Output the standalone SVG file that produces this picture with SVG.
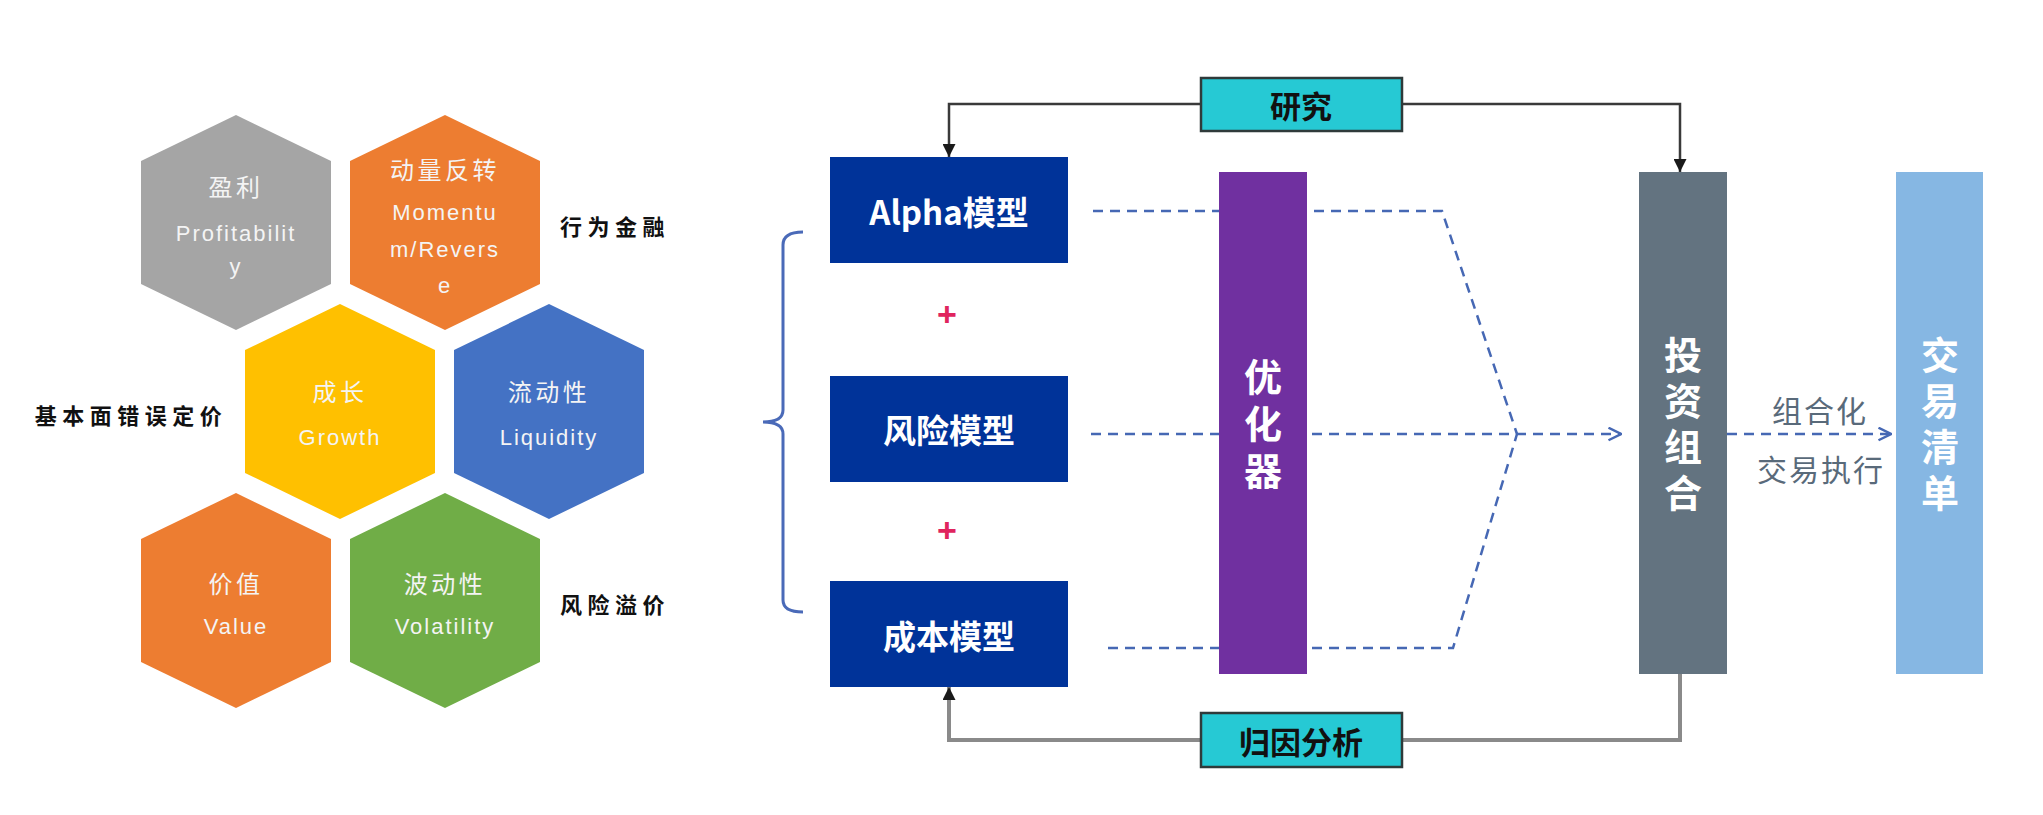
<svg xmlns="http://www.w3.org/2000/svg" width="2043" height="815" viewBox="0 0 2043 815">
<defs>
<style>
.hx{stroke:none}
.ht{font-family:"Noto Sans CJK SC",sans-serif;font-size:24px;fill:#f4f4f4;text-anchor:middle;dominant-baseline:central;letter-spacing:3.5px}
.hl{font-family:"Liberation Sans","Noto Sans CJK SC",sans-serif;font-size:22px;fill:#f4f4f4;text-anchor:middle;dominant-baseline:central;letter-spacing:2px}
.side{font-family:"Noto Sans CJK SC",sans-serif;font-weight:700;font-size:22px;fill:#111;text-anchor:middle;dominant-baseline:central;letter-spacing:5.5px}
.bx{fill:#003399}
.bt{font-family:"Noto Sans CJK SC",sans-serif;font-weight:700;font-size:33px;fill:#fff;text-anchor:middle;dominant-baseline:central}
.vt{font-family:"Noto Sans CJK SC",sans-serif;font-weight:700;font-size:38px;fill:#fff;text-anchor:middle;writing-mode:vertical-rl;letter-spacing:8px}
.lab{fill:#26c9d4;stroke:#2f3a3a;stroke-width:2.5}
.lt{font-family:"Noto Sans CJK SC",sans-serif;font-weight:700;font-size:31px;fill:#111;text-anchor:middle;dominant-baseline:central}
.dash{fill:none;stroke:#4668b4;stroke-width:2.5;stroke-dasharray:10 7}
.plus{font-family:"Liberation Sans",sans-serif;font-weight:700;font-size:34px;fill:#e0245e;text-anchor:middle;dominant-baseline:central}
.gt{font-family:"Noto Sans CJK SC",sans-serif;font-size:30px;fill:#596a7a;text-anchor:middle;dominant-baseline:central;letter-spacing:2px}
</style>
<marker id="tri" viewBox="0 0 10 10" refX="10" refY="5" markerUnits="userSpaceOnUse" markerWidth="13" markerHeight="13" orient="auto"><path d="M0,0 L10,5 L0,10 z" fill="#1a1a1a"/></marker>
<marker id="chev" viewBox="0 0 12 12" refX="11" refY="6" markerUnits="userSpaceOnUse" markerWidth="15" markerHeight="15" orient="auto"><path d="M1,1 L11,6 L1,11" fill="none" stroke="#4668b4" stroke-width="2"/></marker>
</defs>
<rect width="2043" height="815" fill="#fff"/>

<!-- hexagons -->
<g id="hex-profit">
<polygon class="hx" fill="#a5a5a5" points="236,115 331,161 331,284 236,330 141,284 141,161"/>
<text class="ht" x="236" y="185">盈利</text>
<text class="hl" x="236" y="233">Profitabilit</text>
<text class="hl" x="236" y="266">y</text>
</g>
<g id="hex-momentum">
<polygon class="hx" fill="#ed7d31" points="445,115 540,161 540,284 445,330 350,284 350,161"/>
<text class="ht" x="445" y="168">动量反转</text>
<text class="hl" x="445" y="212">Momentu</text>
<text class="hl" x="445" y="249">m/Revers</text>
<text class="hl" x="445" y="285">e</text>
</g>
<g id="hex-growth">
<polygon class="hx" fill="#ffc000" points="340,304 435,350 435,473 340,519 245,473 245,350"/>
<text class="ht" x="340" y="390">成长</text>
<text class="hl" x="340" y="437">Growth</text>
</g>
<g id="hex-liquidity">
<polygon class="hx" fill="#4472c4" points="549,304 644,350 644,473 549,519 454,473 454,350"/>
<text class="ht" x="549" y="390">流动性</text>
<text class="hl" x="549" y="437">Liquidity</text>
</g>
<g id="hex-value">
<polygon class="hx" fill="#ed7d31" points="236,493 331,539 331,662 236,708 141,662 141,539"/>
<text class="ht" x="236" y="582">价值</text>
<text class="hl" x="236" y="626">Value</text>
</g>
<g id="hex-volatility">
<polygon class="hx" fill="#70ad47" points="445,493 540,539 540,662 445,708 350,662 350,539"/>
<text class="ht" x="445" y="582">波动性</text>
<text class="hl" x="445" y="626">Volatility</text>
</g>
<g id="side-labels">
<text class="side" x="615" y="225">行为金融</text>
<text class="side" x="131" y="414">基本面错误定价</text>
<text class="side" x="615" y="603">风险溢价</text>
</g>

<!-- connectors -->
<g id="connectors">
<path d="M1300,104 H949 V157" fill="none" stroke="#3a3a3a" stroke-width="2.5" marker-end="url(#tri)"/>
<path d="M1300,104 H1680 V172" fill="none" stroke="#3a3a3a" stroke-width="2.5" marker-end="url(#tri)"/>
<path d="M1680,674 V740 H949 V687" fill="none" stroke="#8a8a8a" stroke-width="4" marker-end="url(#tri)"/>
<path class="dash" d="M1093,211 H1442 L1517,434"/>
<path class="dash" d="M1108,648 H1453 L1517,434"/>
<path class="dash" d="M1091,434 H1621" marker-end="url(#chev)"/>
<path class="dash" d="M1727,434 H1891" marker-end="url(#chev)"/>
<path d="M803,232 Q783,232 783,245 L783,410 Q783,422 763,422 Q783,422 783,434 L783,600 Q783,612 803,612" fill="none" stroke="#4a6ab8" stroke-width="3"/>
</g>

<g id="alpha">
<rect class="bx" x="830" y="157" width="238" height="106"/>
<text class="bt" x="949" y="211">Alpha模型</text>
</g>
<g id="plus1"><text class="plus" x="947" y="314">+</text></g>
<g id="risk">
<rect class="bx" x="830" y="376" width="238" height="106"/>
<text class="bt" x="949" y="429">风险模型</text>
</g>
<g id="plus2"><text class="plus" x="947" y="530">+</text></g>
<g id="cost">
<rect class="bx" x="830" y="581" width="238" height="106"/>
<text class="bt" x="949" y="635">成本模型</text>
</g>
<g id="optimizer">
<rect x="1219" y="172" width="88" height="502" fill="#7030a0"/>
<text class="vt" x="1263" y="428" style="letter-spacing:9px">优化器</text>
</g>
<g id="portfolio">
<rect x="1639" y="172" width="88" height="502" fill="#637380"/>
<text class="vt" x="1683" y="428">投资组合</text>
</g>
<g id="tradelist">
<rect x="1896" y="172" width="87" height="502" fill="#86b7e3"/>
<text class="vt" x="1940" y="428">交易清单</text>
</g>
<g id="exec-label">
<text class="gt" x="1820" y="409">组合化</text>
<text class="gt" x="1821" y="468">交易执行</text>
</g>
<g id="research">
<rect class="lab" x="1201" y="78" width="201" height="53"/>
<text class="lt" x="1301" y="104">研究</text>
</g>
<g id="attribution">
<rect class="lab" x="1201" y="713" width="201" height="54"/>
<text class="lt" x="1301" y="740">归因分析</text>
</g>
</svg>
